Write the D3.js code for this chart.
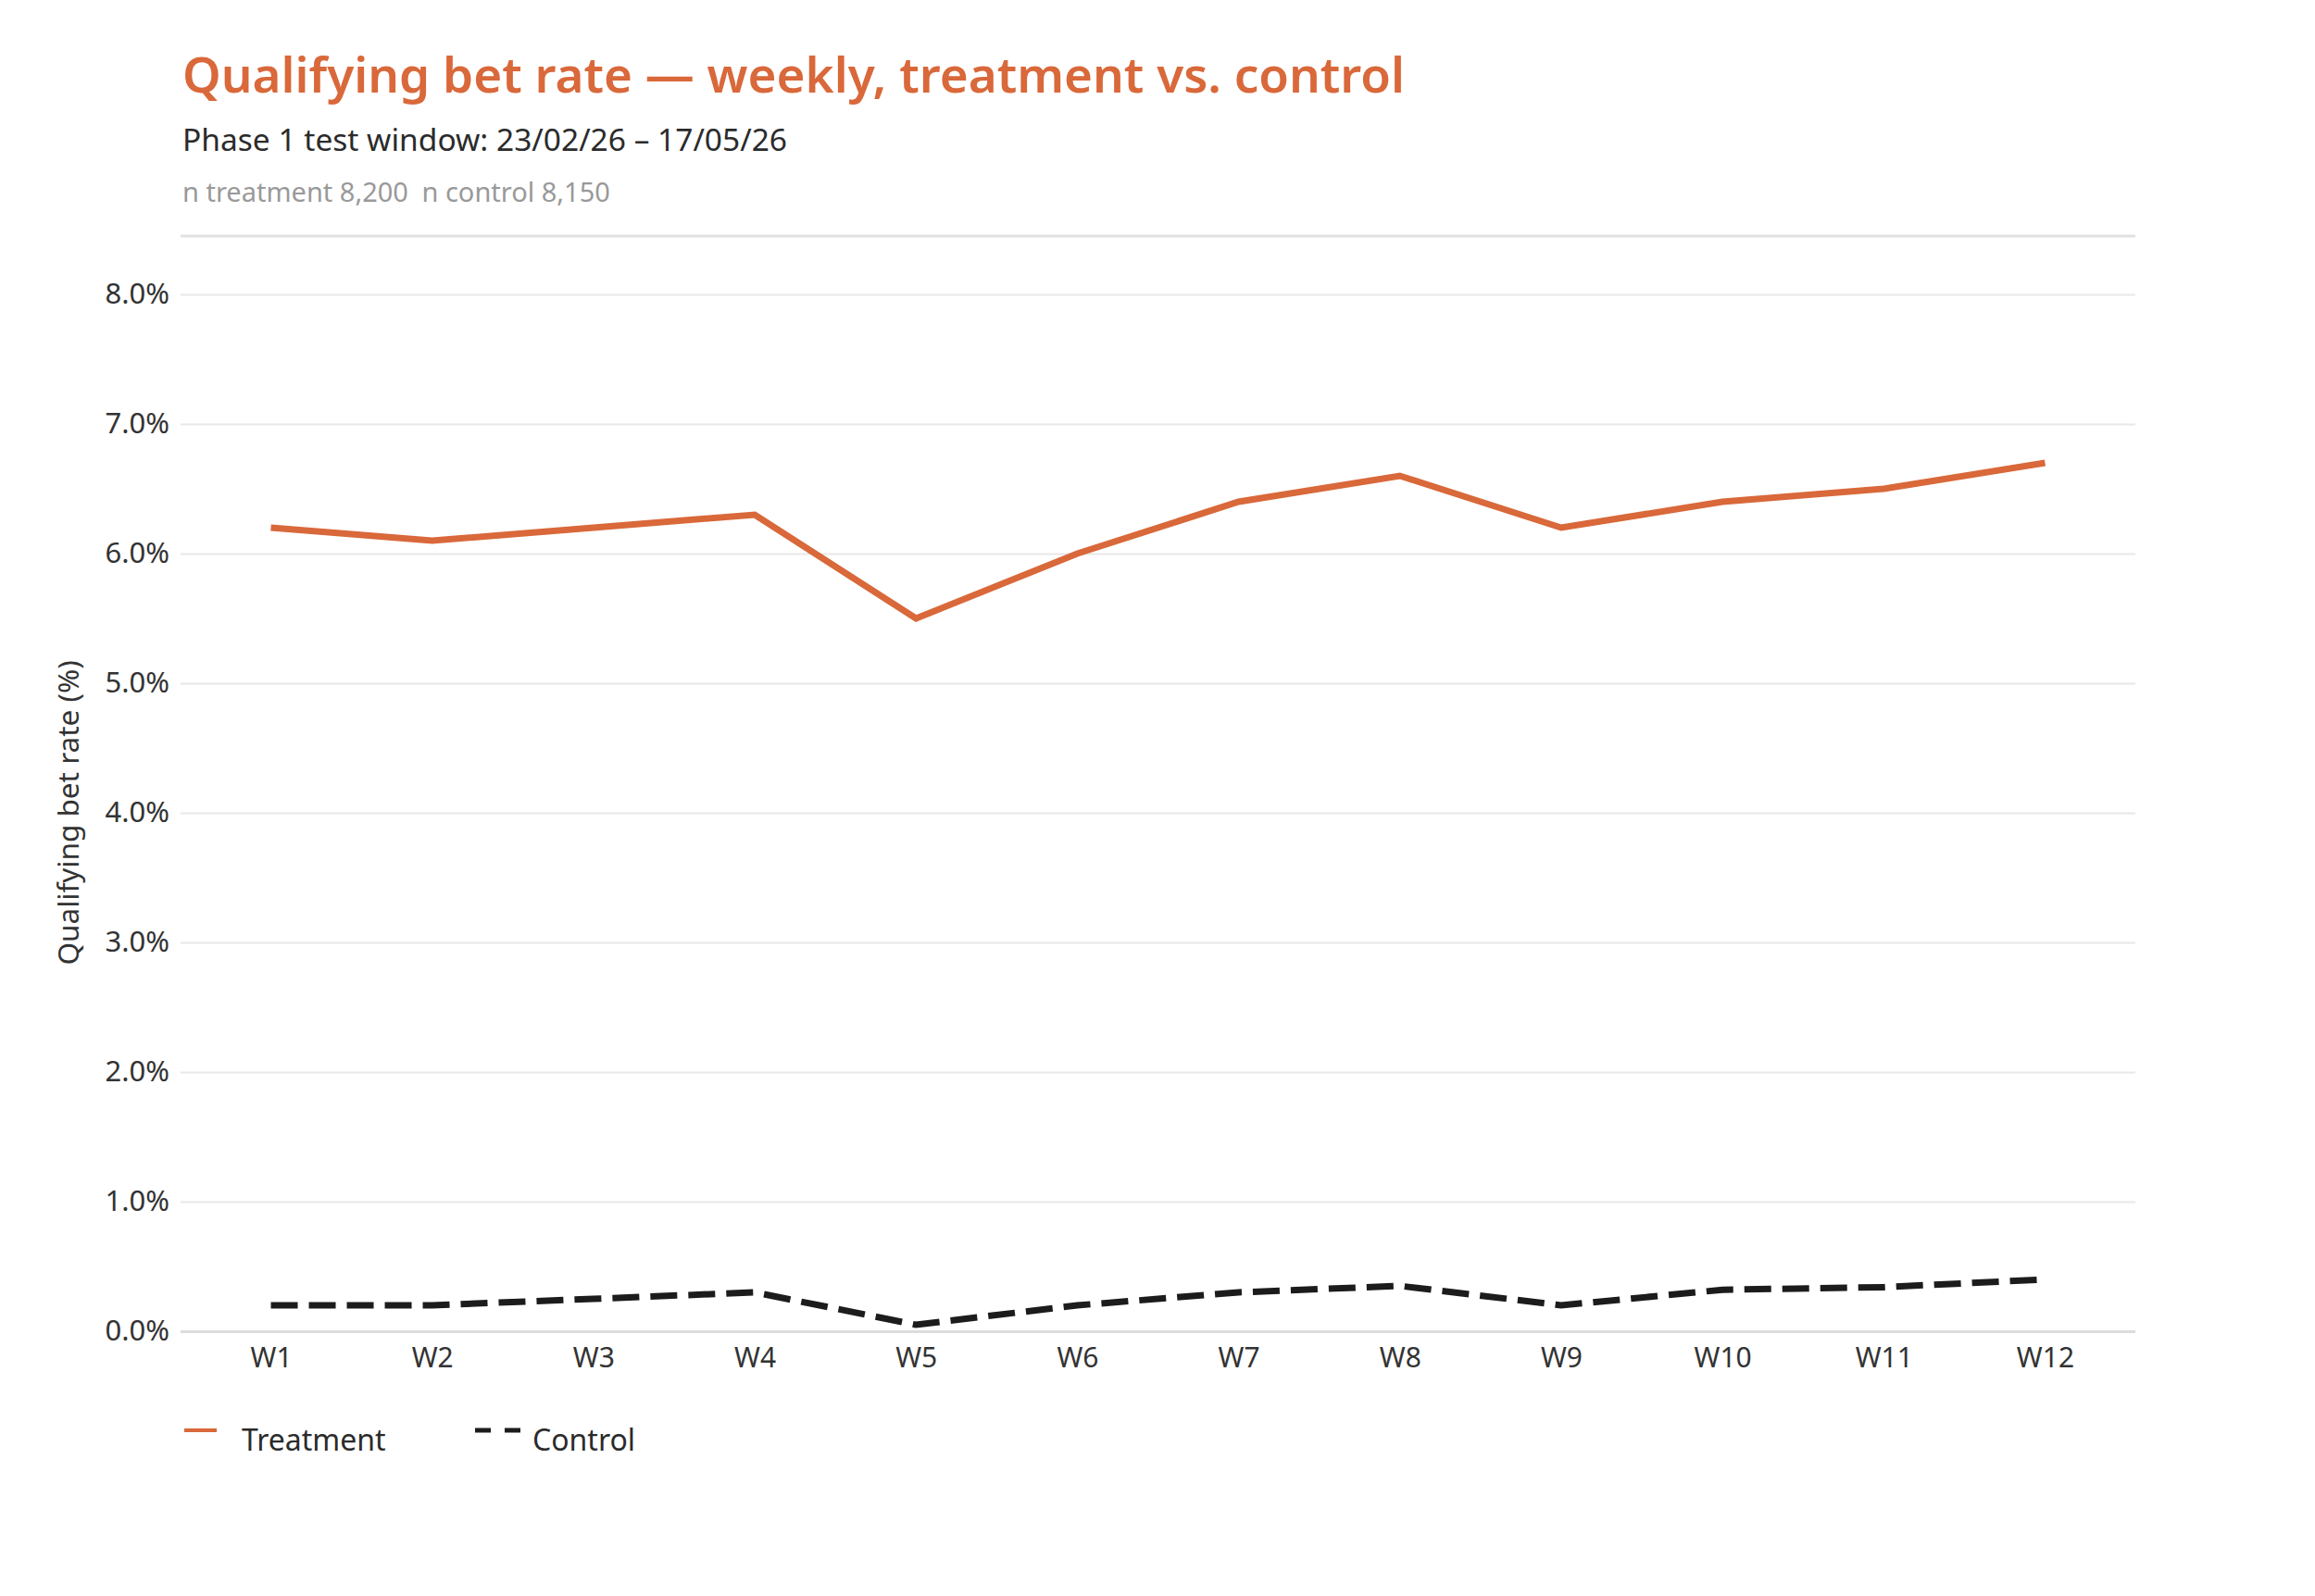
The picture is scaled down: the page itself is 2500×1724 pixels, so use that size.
<!DOCTYPE html>
<html>
<head>
<meta charset="utf-8">
<script src="https://cdn.jsdelivr.net/npm/d3@7"></script>
<style>
  html, body { margin: 0; padding: 0; background: #fff; }
  svg { display: block; font-family: "Noto Sans", sans-serif; }
</style>
</head>
<body>
<svg id="chart"></svg>
<script>
// weekly series
const weeks = ["W1","W2","W3","W4","W5","W6","W7","W8","W9","W10","W11","W12"];
const treatment = [6.2, 6.1, 6.2, 6.3, 5.5, 6.0, 6.4, 6.6, 6.2, 6.4, 6.5, 6.7];
const control = [0.2, 0.2, 0.25, 0.3, 0.05, 0.2, 0.3, 0.35, 0.2, 0.32, 0.34, 0.4];
const yTicks = [0, 1, 2, 3, 4, 5, 6, 7, 8];

const titleText = "Qualifying bet rate \u2014 weekly, treatment vs. control";
const subtitleText = "Phase 1 test window: 23/02/26 \u2013 17/05/26";
const noteText = "n treatment 8,200\u2002n control 8,150";
const yLabel = "Qualifying bet rate (%)";

const W = 2500, H = 1724;
const orange = "#d9683a";
const margin = {top: 318, right: 194, bottom: 286, left: 195};

const svg = d3.select("#chart").attr("width", W).attr("height", H);

const x = d3.scalePoint()
    .domain(weeks)
    .range([margin.left, W - margin.right])
    .padding(0.56);
const y = d3.scaleLinear()
    .domain([0, 8])
    .range([H - margin.bottom, margin.top]);

// header
svg.append("text")
    .attr("x", 197).attr("y", 100)
    .attr("fill", orange)
    .attr("font-size", 53).attr("font-weight", 600)
    .text(titleText);
svg.append("text")
    .attr("x", 197).attr("y", 163)
    .attr("fill", "#2b2b2b")
    .attr("font-size", 33.5)
    .text(subtitleText);
svg.append("text")
    .attr("x", 197).attr("y", 218)
    .attr("fill", "#999")
    .attr("font-size", 29)
    .text(noteText);
svg.append("line")
    .attr("x1", margin.left).attr("x2", W - margin.right)
    .attr("y1", 255).attr("y2", 255)
    .attr("stroke", "#e2e2e2").attr("stroke-width", 3);

// grid + y ticks
const yAxis = svg.append("g")
    .attr("transform", `translate(${margin.left},0)`)
    .call(d3.axisLeft(y)
        .tickValues(yTicks)
        .tickSize(-(W - margin.left - margin.right))
        .tickPadding(12)
        .tickFormat(d => d3.format(".1f")(d) + "%"));
yAxis.select(".domain").remove();
yAxis.selectAll(".tick line")
    .attr("stroke", d => d === 0 ? "#dcdcdc" : "#e8e8e8")
    .attr("stroke-width", d => d === 0 ? 3 : 2);
yAxis.selectAll(".tick text")
    .attr("fill", "#333")
    .attr("font-size", 31)
    .attr("font-family", "Noto Sans, sans-serif");

// x ticks
const xAxis = svg.append("g")
    .attr("transform", `translate(0,${H - margin.bottom})`)
    .call(d3.axisBottom(x).tickSize(0).tickPadding(18));
xAxis.select(".domain").remove();
xAxis.selectAll(".tick text")
    .attr("fill", "#333")
    .attr("font-size", 30)
    .attr("font-family", "Noto Sans, sans-serif");

// y axis title
svg.append("text")
    .attr("transform", `translate(85,${(y(0) + y(8)) / 2}) rotate(-90)`)
    .attr("text-anchor", "middle")
    .attr("fill", "#333")
    .attr("font-size", 31.5)
    .text(yLabel);

// lines
const line = d3.line()
    .x((d, i) => x(weeks[i]))
    .y(d => y(d));

svg.append("path")
    .datum(treatment)
    .attr("d", line)
    .attr("fill", "none")
    .attr("stroke", orange)
    .attr("stroke-width", 7)
    .attr("stroke-linejoin", "miter");

svg.append("path")
    .datum(control)
    .attr("d", line)
    .attr("fill", "none")
    .attr("stroke", "#1c1c1c")
    .attr("stroke-width", 7)
    .attr("stroke-dasharray", "29,12");

// legend
const legend = svg.append("g").attr("transform", "translate(0,1545)");
legend.append("line")
    .attr("x1", 199).attr("x2", 234).attr("y1", 0).attr("y2", 0)
    .attr("stroke", orange).attr("stroke-width", 4);
legend.append("text")
    .attr("x", 261).attr("y", 22)
    .attr("fill", "#2b2b2b").attr("font-size", 32)
    .text("Treatment");
legend.append("line")
    .attr("x1", 513).attr("x2", 562).attr("y1", 0).attr("y2", 0)
    .attr("stroke", "#1c1c1c").attr("stroke-width", 5)
    .attr("stroke-dasharray", "17,15");
legend.append("text")
    .attr("x", 575).attr("y", 22)
    .attr("fill", "#2b2b2b").attr("font-size", 32)
    .text("Control");
</script>
</body>
</html>
